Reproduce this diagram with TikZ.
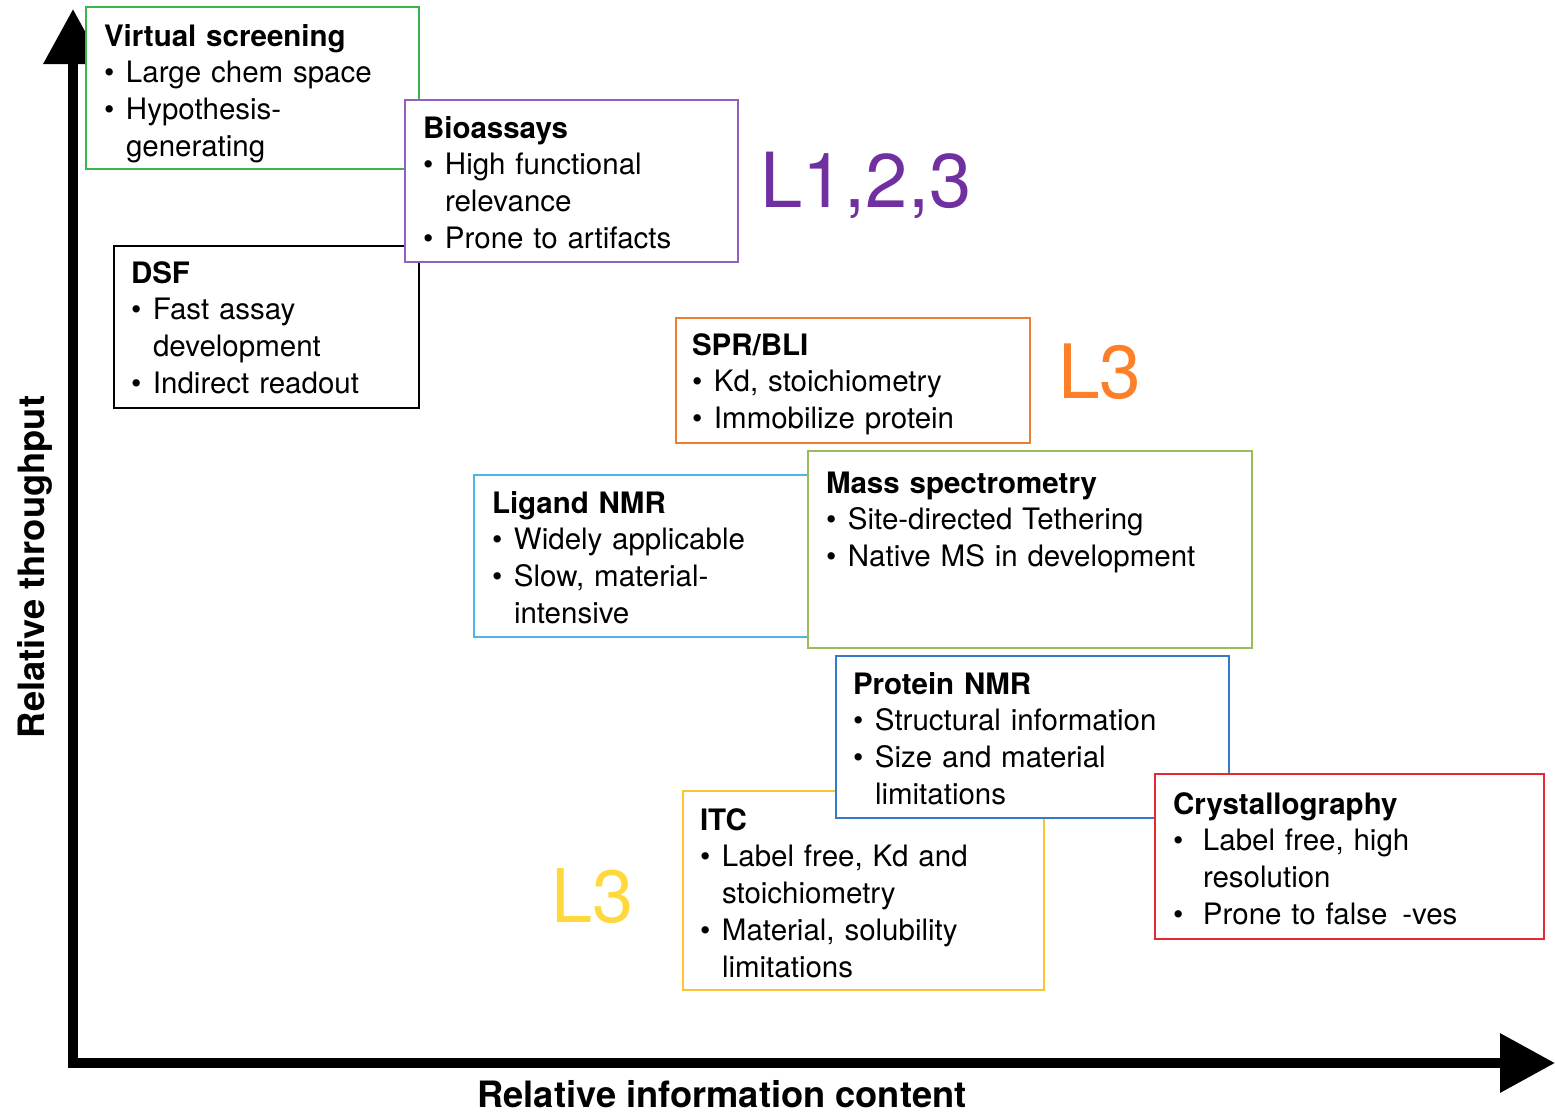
\documentclass[tikz,border=0pt]{standalone}
\usepackage{fontspec}
\setmainfont{TeX Gyre Heros}
\usetikzlibrary{arrows.meta}
\definecolor{vsgreen}{RGB}{60,180,80}
\definecolor{bapurple}{RGB}{145,95,190}
\definecolor{lpurple}{RGB}{112,48,160}
\definecolor{sporange}{RGB}{237,125,49}
\definecolor{lorange}{RGB}{253,128,40}
\definecolor{lnblue}{RGB}{80,180,230}
\definecolor{msolive}{RGB}{155,187,89}
\definecolor{pnblue}{RGB}{55,120,200}
\definecolor{itcyellow}{RGB}{250,195,50}
\definecolor{lyellow}{RGB}{255,217,60}
\definecolor{crred}{RGB}{230,40,50}
\newcommand{\myitem}{\makebox[22pt][l]{\textbullet}}
\newcommand{\mycont}{\hspace*{22pt}}
\newcommand{\myitemw}{\makebox[30pt][l]{\textbullet}}
\newcommand{\mycontw}{\hspace*{30pt}}
\tikzset{
  box/.style={draw, line width=1.8pt, fill=white, anchor=north west, inner sep=0pt, outer sep=0pt},
  txt/.style={anchor=base west, inner sep=0pt, outer sep=0pt, align=left, text width=480pt,
              font=\fontsize{29.5}{36.8}\selectfont},
  biglabel/.style={anchor=base west, inner sep=0pt},
  axis/.style={line width=10pt, line cap=rect, -{Triangle[length=55pt,width=57pt]}},
  axlabel/.style={font=\fontsize{36.3}{40}\selectfont\bfseries, inner sep=0pt, anchor=base}
}
\begin{document}
\begin{tikzpicture}[x=1pt,y=-1pt]
\useasboundingbox (0,0) rectangle (1555,1114);
% axes
\coordinate (O) at (73,1063);
\coordinate (Ytip) at (73,9);
\coordinate (Xtip) at (1555,1063);
\draw[axis] (O) -- (Ytip);
\draw[axis] (O) -- (Xtip);
\node[axlabel] (xlab) at (722,1107) {Relative information content};
\node[axlabel, rotate=90] (ylab) at (44,567) {Relative throughput};
% Virtual screening
\node[box, draw=vsgreen, minimum width=333pt, minimum height=162pt] (vs) at (86,7) {};
\node[txt] (vst) at (104,46) {\textbf{Virtual screening}\\ \myitem Large chem space\\ \myitem Hypothesis-\\ \mycont generating};
% DSF
\node[box, draw=black, minimum width=305pt, minimum height=162pt] (dsf) at (114,246) {};
\node[txt] (dsft) at (131,283) {\textbf{DSF}\\ \myitem Fast assay\\ \mycont development\\ \myitem Indirect readout};
% Bioassays
\node[box, draw=bapurple, minimum width=333pt, minimum height=162pt] (bio) at (405,100) {};
\node[txt] (biot) at (423,138) {\textbf{Bioassays}\\ \myitem High functional\\ \mycont relevance\\ \myitem Prone to artifacts};
% SPR/BLI
\node[box, draw=sporange, minimum width=354pt, minimum height=125pt] (spr) at (676,318) {};
\node[txt] (sprt) at (692,355) {\textbf{SPR/BLI}\\ \myitem Kd, stoichiometry\\ \myitem Immobilize protein};
% Ligand NMR
\node[box, draw=lnblue, minimum width=334pt, minimum height=162pt] (lig) at (474,475) {};
\node[txt] (ligt) at (492,513) {\textbf{Ligand NMR}\\ \myitem Widely applicable\\ \myitem Slow, material-\\ \mycont intensive};
% Mass spectrometry
\node[box, draw=msolive, minimum width=444pt, minimum height=197pt] (ms) at (808,451) {};
\node[txt] (mst) at (826,493) {\textbf{Mass spectrometry}\\ \myitem Site-directed Tethering\\ \myitem Native MS in development};
% ITC
\node[box, draw=itcyellow, minimum width=361pt, minimum height=199pt] (itc) at (683,791) {};
\node[txt] (itct) at (700,830) {\textbf{ITC}\\ \myitem Label free, Kd and\\ \mycont stoichiometry\\ \myitem Material, solubility\\ \mycont limitations};
% Protein NMR
\node[box, draw=pnblue, minimum width=393pt, minimum height=162pt] (pn) at (836,656) {};
\node[txt] (pnt) at (853,694) {\textbf{Protein NMR}\\ \myitem Structural information\\ \myitem Size and material\\ \mycont limitations};
% Crystallography
\node[box, draw=crred, minimum width=389pt, minimum height=165pt] (cr) at (1155,774) {};
\node[txt] (crt) at (1173,814) {\textbf{Crystallography}\\ \myitemw Label free, high\\ \mycontw resolution\\ \myitemw Prone to false\hspace{0.5em}-ves};
% level labels
\node[biglabel, text=lpurple, font=\fontsize{76}{80}\selectfont] (l123) at (760,207) {L1,2,3};
\node[biglabel, text=lorange, font=\fontsize{75}{80}\selectfont] (l3a) at (1058,398) {L3};
\node[biglabel, text=lyellow, font=\fontsize{74}{80}\selectfont] (l3b) at (551,922) {L3};
\end{tikzpicture}
\end{document}
